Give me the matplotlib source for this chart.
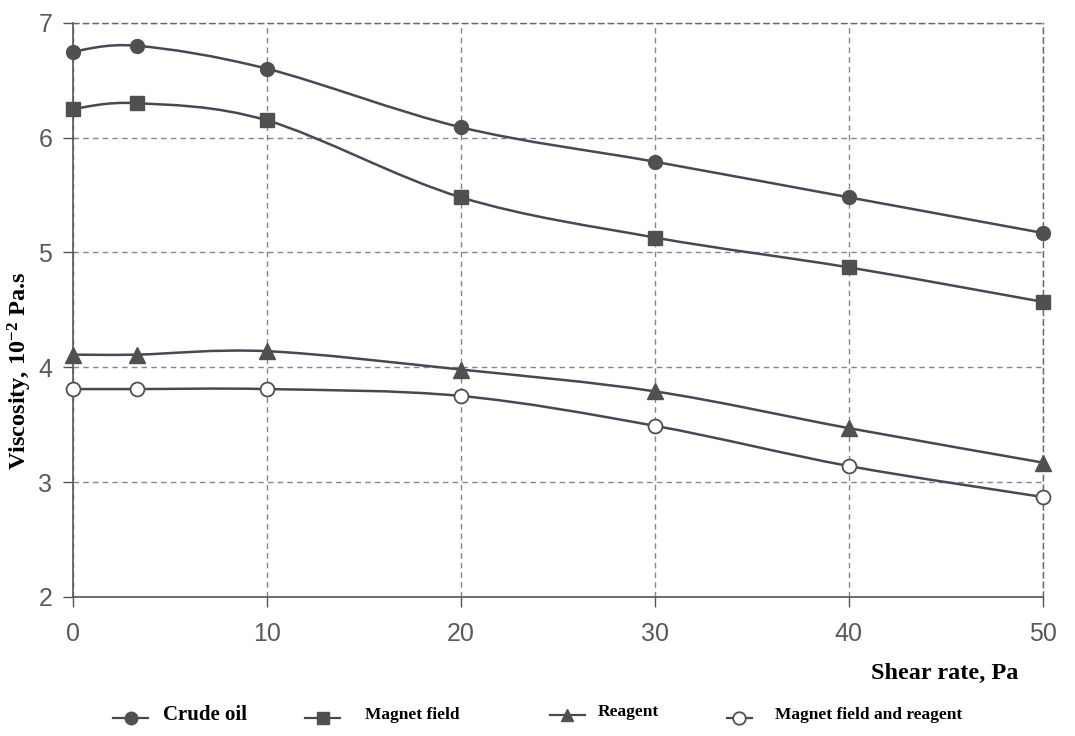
import numpy as np
import matplotlib
matplotlib.use('Agg')
import matplotlib.pyplot as plt
from matplotlib.path import Path
from matplotlib.patches import PathPatch
from matplotlib.lines import Line2D

# shear rate points and viscosity (10^-2 Pa.s) for each treatment
shear = [0, 3.3, 10, 20, 30, 40, 50]
crude_oil = [6.75, 6.80, 6.60, 6.09, 5.79, 5.48, 5.17]
magnet_field = [6.25, 6.30, 6.15, 5.48, 5.13, 4.87, 4.57]
reagent = [4.11, 4.11, 4.14, 3.98, 3.79, 3.47, 3.17]
magnet_reagent = [3.81, 3.81, 3.81, 3.75, 3.49, 3.14, 2.87]

series_labels = ['Crude oil', 'Magnet field', 'Reagent', 'Magnet field and reagent']
xticks = [0, 10, 20, 30, 40, 50]
yticks = [2, 3, 4, 5, 6, 7]

LINE = '#4a4658'
MARK = '#505050'
GRID = '#6a6478'
TICK = '#5a5a5a'

plt.rcParams['mathtext.fontset'] = 'custom'
plt.rcParams['mathtext.rm'] = 'Liberation Serif:bold'
plt.rcParams['mathtext.it'] = 'Liberation Serif:bold'
plt.rcParams['mathtext.bf'] = 'Liberation Serif:bold'


def smooth_path(xs, ys, tension=1 / 6):
    # Catmull-Rom style bezier segments through the points
    pts = np.column_stack([np.asarray(xs, float), np.asarray(ys, float)])
    verts = [pts[0]]
    codes = [Path.MOVETO]
    n = len(pts)
    for i in range(n - 1):
        p0 = pts[max(i - 1, 0)]
        p1 = pts[i]
        p2 = pts[i + 1]
        p3 = pts[min(i + 2, n - 1)]
        verts += [p1 + (p2 - p0) * tension, p2 - (p3 - p1) * tension, p2]
        codes += [Path.CURVE4] * 3
    return Path(verts, codes)


fig = plt.figure(figsize=(10.75, 7.36), dpi=100)
ax = fig.add_axes([0.068, 0.189, 0.902, 0.780])

styles = [
    dict(marker='o', mfc=MARK, mec=MARK, ms=10),
    dict(marker='s', mfc=MARK, mec=MARK, ms=10),
    dict(marker='^', mfc=MARK, mec=MARK, ms=11),
    dict(marker='o', mfc='white', mec=MARK, ms=10, mew=1.3),
]
data = [crude_oil, magnet_field, reagent, magnet_reagent]

for ys, st in zip(data, styles):
    ax.add_patch(PathPatch(smooth_path(shear, ys), fill=False,
                           edgecolor=LINE, lw=1.8, zorder=3))
    ax.plot(shear, ys, linestyle='none', zorder=4, clip_on=False, **st)

ax.set_xlim(0, 50)
ax.set_ylim(2, 7)
ax.set_xticks(xticks)
ax.set_yticks(yticks)
ax.grid(True, linestyle=(0, (4, 3)), color=GRID, lw=1.0, alpha=0.8)

for side in ['top', 'right']:
    ax.spines[side].set_linestyle((0, (4, 3)))
    ax.spines[side].set_color(GRID)
    ax.spines[side].set_linewidth(1.0)
for side in ['left', 'bottom']:
    ax.spines[side].set_color('#555555')
    ax.spines[side].set_linewidth(1.2)

ax.tick_params(axis='both', direction='out', length=7, width=1,
               color='#555555', labelcolor=TICK, labelsize=18)
ax.tick_params(axis='x', pad=11)
ax.tick_params(axis='y', pad=8)
for lab in ax.get_xticklabels() + ax.get_yticklabels():
    lab.set_fontfamily('Liberation Sans')

ax.set_ylabel('Viscosity, 10$^{-2}$ Pa.s', family='Liberation Serif',
              fontweight='bold', fontsize=17.5)
ax.yaxis.label.set_verticalalignment('center')
ax.yaxis.set_label_coords(-0.055, 0.393)

fig.text(0.947, 0.0856, 'Shear rate, Pa', family='Liberation Serif',
         fontweight='bold', fontsize=17.5, ha='right', va='center')

# legend row drawn by hand along the bottom
entries = [
    (0.105, 0.138, 0.1516, 0.0285, 15),
    (0.2837, 0.3163, 0.3395, 0.0285, 12.5),
    (0.5116, 0.5442, 0.5563, 0.0326, 12.5),
    (0.6763, 0.6995, 0.7209, 0.0285, 12.5),
]
for (x0, x1, tx, ty, fs), st, label in zip(entries, styles, series_labels):
    fig.add_artist(Line2D([x0, x1], [ty - 0.004, ty - 0.004], color=LINE, lw=1.6,
                          transform=fig.transFigure))
    mst = dict(st)
    mst['ms'] = 9
    fig.add_artist(Line2D([(x0 + x1) / 2], [ty - 0.004], linestyle='none',
                          transform=fig.transFigure, **mst))
    fig.text(tx, ty, label, family='Liberation Serif', fontweight='bold',
             fontsize=fs, ha='left', va='center')

fig.savefig('out.png', dpi=100, facecolor='white')
